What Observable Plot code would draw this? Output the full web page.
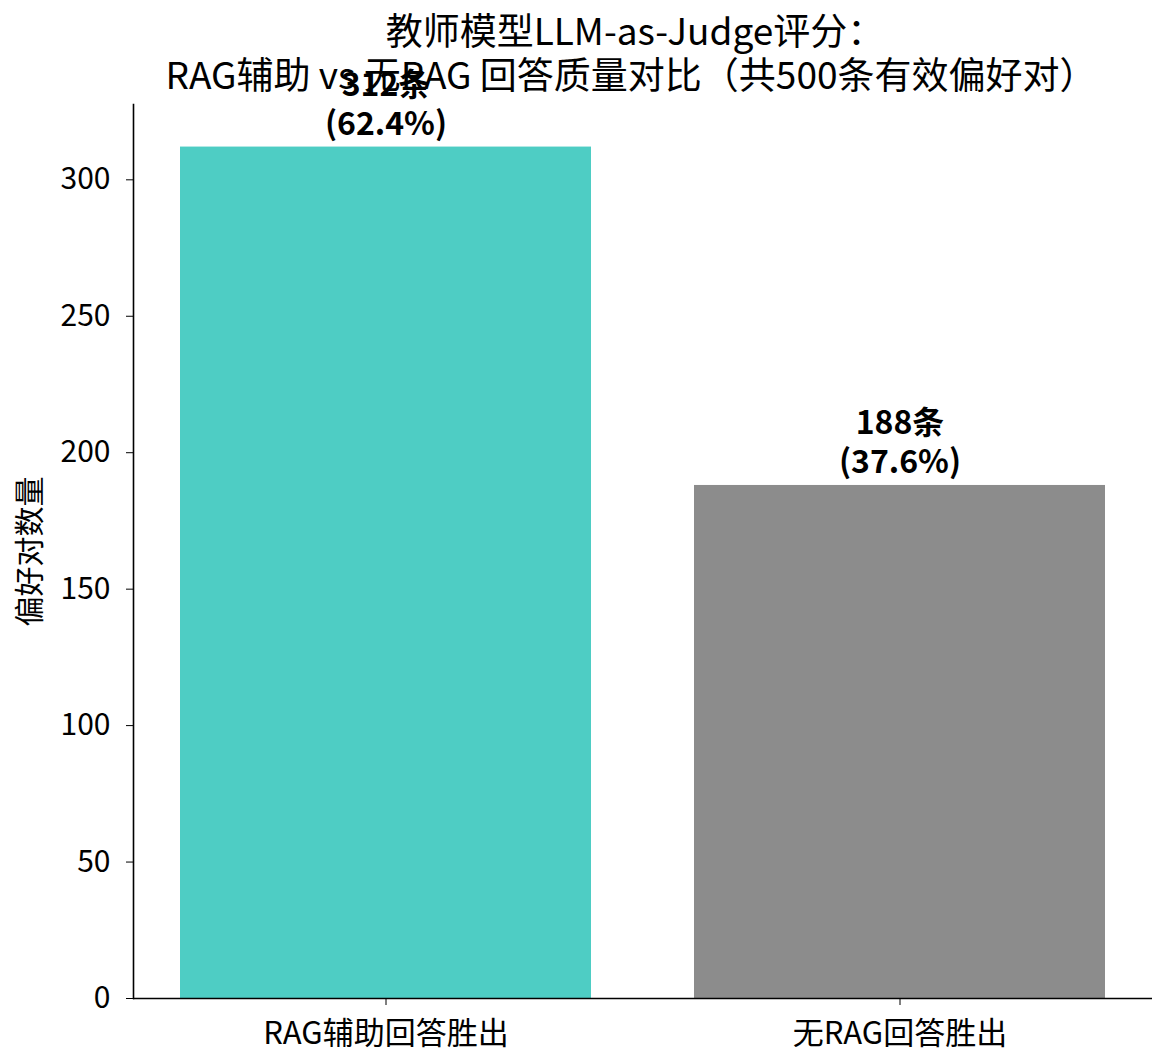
<!DOCTYPE html>
<html><head><meta charset="utf-8">
<script src="https://cdn.jsdelivr.net/npm/d3@7"></script>
<script src="https://cdn.jsdelivr.net/npm/@observablehq/plot@0.6"></script>
<style>body{margin:0;background:#fff;font-family:"Noto Sans CJK SC","Noto Sans",sans-serif;}</style>
</head><body><div id="chart"></div>
<script>
const categories = ["RAG辅助回答胜出", "无RAG回答胜出"];
const counts = [312, 188];
const percents = [62.4, 37.6];
const colors = ["#4ECDC4", "#8C8C8C"];
const yTicks = [0, 50, 100, 150, 200, 250, 300];
const titleText = "教师模型LLM-as-Judge评分：\nRAG辅助 vs 无RAG 回答质量对比（共500条有效偏好对）";
const yLabel = "偏好对数量";

const data = categories.map((c, i) => ({cat: c, n: counts[i], pct: percents[i]}));
const font = '"Noto Sans CJK SC","Noto Sans",sans-serif';

const chart = Plot.plot({
  width: 1167, height: 1061,
  marginLeft: 133, marginRight: 15, marginTop: 104, marginBottom: 63,
  style: {fontFamily: font, background: "#fff", color: "#000"},
  x: {domain: categories, paddingInner: 0.2, paddingOuter: 0.09, label: null},
  y: {domain: [0, 327.6], label: null},
  color: {type: "ordinal", domain: categories, range: colors},
  marks: [
    Plot.barY(data, {x: "cat", y: "n", fill: "cat"}),
    Plot.text(data, {x: "cat", y: "n", text: d => `(${d.pct.toFixed(1)}%)`,
      lineAnchor: "bottom", dy: -12, fontSize: 32, fontWeight: "bold", fill: "#000"}),
    Plot.text(data, {x: "cat", y: "n", text: d => `${d.n}条`,
      lineAnchor: "bottom", dy: -51, fontSize: 32, fontWeight: "bold", fill: "#000"}),
    Plot.frame({anchor: "left", stroke: "#000", strokeWidth: 1.6}),
    Plot.ruleY([0], {stroke: "#000", strokeWidth: 1.6}),
    Plot.axisY({ticks: yTicks, tickSize: 7, tickPadding: 16, fontSize: 30, label: null, tickFormat: d => String(d)}),
    Plot.axisX({tickSize: 7, tickPadding: 16, fontSize: 31, label: null}),
    Plot.text([yLabel], {frameAnchor: "left", textAnchor: "middle", rotate: -90, dx: -103, fontSize: 30, fill: "#000"}),
    Plot.text(["教师模型LLM-as-Judge评分："], {frameAnchor: "top", dx: -8, dy: -71, lineAnchor: "middle", fontSize: 37, fill: "#000"}),
    Plot.text(["RAG辅助 vs 无RAG 回答质量对比（共500条有效偏好对）"], {frameAnchor: "top", dx: -12, dy: -27, lineAnchor: "middle", fontSize: 37, fill: "#000"})
  ]
});
document.getElementById("chart").appendChild(chart);
</script></body></html>
